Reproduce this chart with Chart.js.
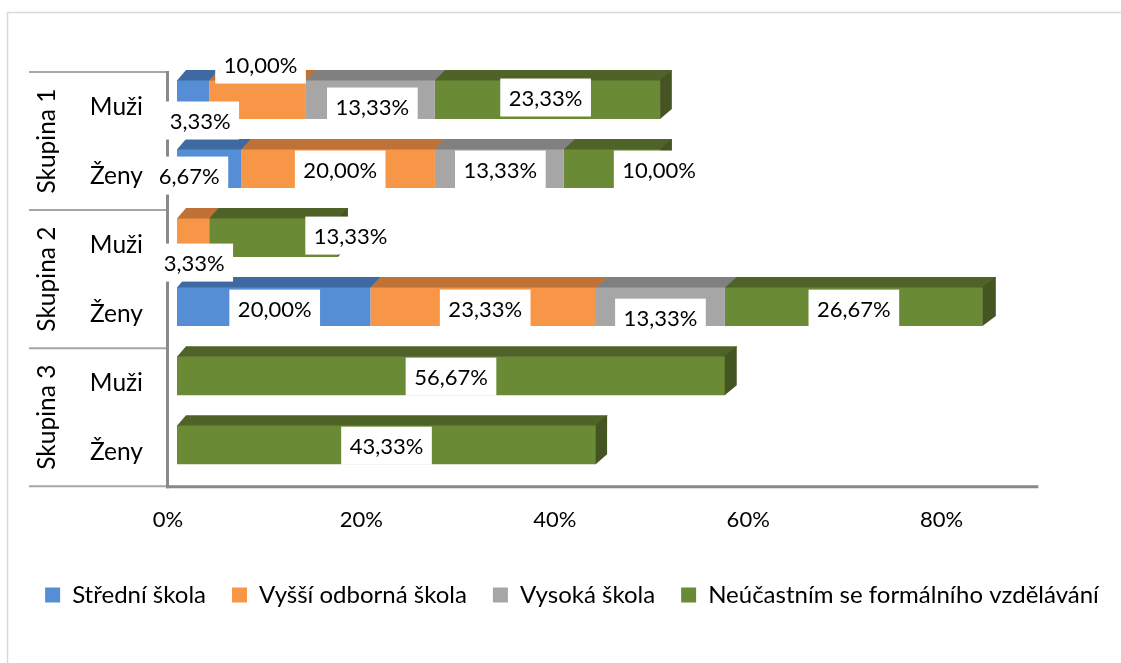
<!DOCTYPE html>
<html>
<head>
<meta charset="utf-8">
<script src="https://cdn.jsdelivr.net/npm/chart.js@4.4.1/dist/chart.umd.min.js"></script>
<style>
html,body{margin:0;padding:0;background:#fff;}
#wrap{width:1121px;height:663px;position:relative;}
</style>
</head>
<body>
<div id="wrap"><canvas id="c"></canvas></div>
<script>
// ---- data ----
const categories = ['Muži', 'Ženy', 'Muži', 'Ženy', 'Muži', 'Ženy'];
const groups = ['Skupina 1', 'Skupina 2', 'Skupina 3'];
const seriesNames = ['Střední škola', 'Vyšší odborná škola', 'Vysoká škola', 'Neúčastním se formálního vzdělávání'];
const stredniSkola = [3.33, 6.67, 0, 20.00, 0, 0];
const vyssiOdborna = [10.00, 20.00, 3.33, 23.33, 0, 0];
const vysokaSkola = [13.33, 13.33, 0, 13.33, 0, 0];
const neucastnim = [23.33, 10.00, 13.33, 26.67, 56.67, 43.33];
const xTickValues = [0, 20, 40, 60, 80];
const xAxisMax = 90;

// ---- styling ----
const FONT = "Lato, 'Open Sans', sans-serif";
const FS_NUM = 22;     // numbers (ticks, data labels)
const FS_TXT = 24.5;   // category / group text
const FS_LEG = 24;     // legend text
const frontColors = ['#558ed5', '#f79646', '#a6a6a6', '#6a8a35'];
const topColors = ['#3f6aa1', '#bf7136', '#808080', '#4f6228'];
const sideColors = ['#35598a', '#a3602e', '#6d6d6d', '#445522'];
// label nudges [dx, dy] per series, per category (Excel moved some labels)
const labelNudge = [
  [[7, 21], [-20, 7], [0, 0], [1, 2], [0, 0], [0, 0]],
  [[3, -35], [2, 1], [1, 25], [2, 2], [0, 0], [0, 0]],
  [[2, 7], [1, 1], [0, 0], [0, 11], [0, 0], [0, 0]],
  [[-2, -2], [47, 1], [77, -2], [0, 2], [0, 1], [0, 1]]
];
const W = 1121, H = 663;
const AREA_LEFT = 177, AREA_RIGHT = 1047.3, AREA_BOTTOM = 479.2;
const PAD_L = 12, PAD_R = -11, PAD_T = 65;
const LEG_PAD = 26;
const LEG_CENTER_Y = 595;
const LEG_H = FS_LEG + LEG_PAD + 10;
const PAD_B = H - (LEG_CENTER_Y + FS_LEG / 2 + 10);
const X_AXIS_H = H - PAD_B - LEG_H - AREA_BOTTOM;
const depthY = 10;
function depthX(x, left) { return 9 + (x - left) * 0.005; }
function fmt(v) { return v.toFixed(2).replace('.', ',') + '%'; }

Chart.defaults.font.family = FONT;
Chart.defaults.font.size = FS_NUM;
Chart.defaults.color = '#000';

function poly(ctx, pts) {
  ctx.beginPath();
  ctx.moveTo(pts[0][0], pts[0][1]);
  for (let k = 1; k < pts.length; k++) ctx.lineTo(pts[k][0], pts[k][1]);
  ctx.closePath();
  ctx.fill();
}
function line(ctx, x0, y0, x1, y1) {
  ctx.beginPath(); ctx.moveTo(x0, y0); ctx.lineTo(x1, y1); ctx.stroke();
}

const excel3d = {
  id: 'excel3d',
  beforeDatasetsDraw(chart) {
    const ctx = chart.ctx, a = chart.chartArea;
    const ys = chart.scales.y, xs = chart.scales.x;
    const band = ys.getPixelForValue(1) - ys.getPixelForValue(0);
    const shift = 7;
    ctx.save();
    // outer chart border
    ctx.strokeStyle = '#d9d9d9'; ctx.lineWidth = 1.5;
    ctx.strokeRect(7.5, 12.5, 1300, 900);
    // hierarchy lines
    ctx.strokeStyle = '#a6a6a6'; ctx.lineWidth = 2;
    for (let g = 0; g <= groups.length; g++) {
      const yy = a.top + shift + g * 2 * band;
      line(ctx, 29, yy, a.left - 9, yy);
    }
    // axis lines
    ctx.strokeStyle = '#898989'; ctx.lineWidth = 3;
    const axY = a.bottom + shift + 0.5;
    line(ctx, a.left - 9.5, a.top + shift - 1, a.left - 9.5, axY + 1.5);
    line(ctx, a.left - 11, axY, xs.getPixelForValue(xAxisMax) - 9, axY);
    // group labels
    ctx.fillStyle = '#000';
    ctx.font = FS_TXT + 'px ' + FONT;
    ctx.textAlign = 'center'; ctx.textBaseline = 'middle';
    groups.forEach((g, k) => {
      const cy = a.top + shift + (2 * k + 1) * band;
      ctx.save();
      ctx.translate(47, cy);
      ctx.rotate(-Math.PI / 2);
      ctx.fillText(g, 0, 0);
      ctx.restore();
    });
    ctx.restore();
  },
  afterDatasetsDraw(chart) {
    const ctx = chart.ctx, a = chart.chartArea;
    const dsets = chart.data.datasets;
    const n = chart.data.labels.length;
    ctx.save();
    for (let i = 0; i < n; i++) {
      let last = -1;
      dsets.forEach((ds, d) => { if (ds.data[i] > 0) last = d; });
      dsets.forEach((ds, d) => {
        if (!(ds.data[i] > 0)) return;
        const el = chart.getDatasetMeta(d).data[i];
        const x0 = Math.min(el.base, el.x), x1 = Math.max(el.base, el.x);
        const yT = el.y - el.height / 2, yB = el.y + el.height / 2;
        const dx0 = depthX(x0, a.left), dx1 = depthX(x1, a.left);
        ctx.fillStyle = topColors[d];
        poly(ctx, [[x0, yT + 0.5], [x0 + dx0, yT - depthY], [x1 + dx1 + 0.6, yT - depthY], [x1 + 0.6, yT + 0.5]]);
        if (d === last) {
          ctx.fillStyle = sideColors[d];
          poly(ctx, [[x1 - 0.3, yT], [x1 + dx1, yT - depthY], [x1 + dx1, yB - depthY], [x1 - 0.3, yB]]);
        }
      });
    }
    // data labels
    ctx.font = FS_NUM + 'px ' + FONT;
    ctx.textAlign = 'center'; ctx.textBaseline = 'middle';
    dsets.forEach((ds, d) => {
      ds.data.forEach((v, i) => {
        if (!(v > 0)) return;
        const el = chart.getDatasetMeta(d).data[i];
        const cx = (el.base + el.x) / 2 + labelNudge[d][i][0];
        const cy = el.y + labelNudge[d][i][1];
        const t = fmt(v);
        const w = ctx.measureText(t).width + 17, h = 38;
        ctx.fillStyle = '#fff';
        ctx.fillRect(cx - w / 2, cy - h / 2, w, h);
        ctx.fillStyle = '#000';
        ctx.fillText(t, cx, cy + 1);
      });
    });
    ctx.restore();
  }
};

const seriesData = [stredniSkola, vyssiOdborna, vysokaSkola, neucastnim];

new Chart(document.getElementById('c'), {
  type: 'bar',
  data: {
    labels: categories,
    datasets: seriesData.map((arr, d) => ({
      label: seriesNames[d],
      data: arr,
      backgroundColor: frontColors[d],
      borderWidth: 0,
      barPercentage: 0.565,
      categoryPercentage: 1
    }))
  },
  options: {
    indexAxis: 'y',
    responsive: true,
    maintainAspectRatio: false,
    animation: false,
    layout: { padding: { left: PAD_L, right: PAD_R, top: PAD_T, bottom: PAD_B } },
    scales: {
      x: {
        stacked: true, min: 0, max: xAxisMax,
        grid: { display: false, drawTicks: false },
        border: { display: false },
        afterBuildTicks: s => { s.ticks = xTickValues.map(v => ({ value: v })); },
        ticks: { padding: 28, labelOffset: -9, autoSkip: false, maxRotation: 0, font: { size: FS_NUM }, callback: v => v + '%' },
        afterFit: s => { s.height = X_AXIS_H; }
      },
      y: {
        stacked: true,
        grid: { display: false, drawTicks: false },
        border: { display: false },
        ticks: { padding: 34, labelOffset: 7.5, autoSkip: false, font: { size: FS_TXT } },
        afterFit: s => { s.width = AREA_LEFT - PAD_L; }
      },
      yRight: {
        type: 'linear', position: 'right', display: true,
        grid: { display: false, drawTicks: false },
        border: { display: false },
        ticks: { display: false },
        afterFit: s => { s.width = W - PAD_R - AREA_RIGHT; }
      }
    },
    plugins: {
      legend: {
        position: 'bottom',
        labels: { boxWidth: 15, boxHeight: 15, padding: LEG_PAD, color: '#000', font: { size: FS_LEG } }
      },
      tooltip: { enabled: false }
    }
  },
  plugins: [excel3d]
});
</script>
</body>
</html>
